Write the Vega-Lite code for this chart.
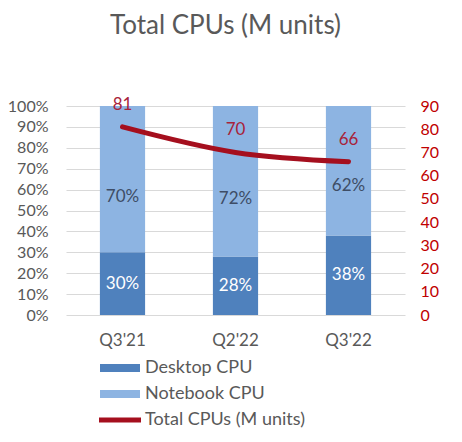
{
  "$schema": "https://vega.github.io/schema/vega-lite/v6.json",
  "autosize": "none",
  "width": 339,
  "height": 209,
  "padding": {"left": 66, "top": 106, "right": 57, "bottom": 127},
  "config": {
    "font": "Lato",
    "view": {"stroke": null},
    "axis": {"labelFont": "Lato", "labelFontSize": 16, "labelColor": "#595959", "domain": false, "ticks": false, "title": null, "labelOverlap": false}
  },
  "title": {
    "text": "Total CPUs (M units)",
    "anchor": "middle",
    "dx": -10,
    "offset": 57,
    "fontSize": 26,
    "fontWeight": "normal",
    "color": "#595959",
    "font": "Lato"
  },
  "datasets": {
    "share": [
      {"quarter": "Q3'21", "series": "Desktop CPU", "share": 0.30},
      {"quarter": "Q3'21", "series": "Notebook CPU", "share": 0.70},
      {"quarter": "Q2'22", "series": "Desktop CPU", "share": 0.28},
      {"quarter": "Q2'22", "series": "Notebook CPU", "share": 0.72},
      {"quarter": "Q3'22", "series": "Desktop CPU", "share": 0.38},
      {"quarter": "Q3'22", "series": "Notebook CPU", "share": 0.62}
    ],
    "total": [
      {"quarter": "Q3'21", "total": 81},
      {"quarter": "Q2'22", "total": 70},
      {"quarter": "Q3'22", "total": 66}
    ]
  },
  "encoding": {
    "x": {
      "field": "quarter",
      "type": "nominal",
      "sort": ["Q3'21", "Q2'22", "Q3'22"],
      "scale": {"paddingInner": 0.6, "paddingOuter": 0.3},
      "axis": {"labelAngle": 0, "labelPadding": 17, "grid": false, "labelFontSize": 17}
    }
  },
  "layer": [
    {
      "data": {"name": "share"},
      "layer": [
        {
          "mark": {"type": "bar"},
          "encoding": {
            "y": {
              "field": "share",
              "type": "quantitative",
              "stack": "zero",
              "scale": {"domain": [0, 1]},
              "axis": {"format": ".0%", "values": [0, 0.1, 0.2, 0.3, 0.4, 0.5, 0.6, 0.7, 0.8, 0.9, 1], "grid": true, "gridColor": "#d9d9d9", "labelPadding": 18, "labelOverlap": false}
            },
            "order": {"field": "series", "sort": "ascending"},
            "color": {
              "field": "series",
              "type": "nominal",
              "scale": {
                "domain": ["Desktop CPU", "Notebook CPU", "Total CPUs (M units)"],
                "range": ["#4F81BD", "#8DB4E2", "#A50F1E"]
              },
              "legend": {
                "title": null,
                "orient": "none",
                "legendX": 44,
                "legendY": 252,
                "padding": 0,
                "symbolSize": 400,
                "symbolStrokeWidth": 0,
                "symbolOpacity": 1,
                "labelOffset": 15,
                "rowPadding": 7,
                "labelFont": "Lato",
                "labelFontSize": 18,
                "labelColor": "#595959",
                "encode": {
                  "symbols": {
                    "update": {
                      "shape": {"signal": "datum.value === 'Total CPUs (M units)' ? 'M-2.1,-0.25H2.1V0.25H-2.1Z' : 'M-2,-0.4H2V0.4H-2Z'"}
                    }
                  }
                }
              }
            }
          }
        },
        {
          "mark": {"type": "text", "fontSize": 17, "baseline": "middle", "color": "#ffffff"},
          "encoding": {
            "y": {
              "field": "share", "type": "quantitative", "stack": "zero", "bandPosition": 0.5,
              "axis": {"format": ".0%", "values": [0, 0.1, 0.2, 0.3, 0.4, 0.5, 0.6, 0.7, 0.8, 0.9, 1], "grid": true, "gridColor": "#d9d9d9", "labelPadding": 18, "labelOverlap": false}
            },
            "order": {"field": "series", "sort": "ascending"},
            "detail": {"field": "series"},
            "text": {"condition": {"test": "datum.series !== 'Desktop CPU'", "value": ""}, "field": "share", "format": ".0%"}
          }
        },
        {
          "mark": {"type": "text", "fontSize": 17, "baseline": "middle", "color": "#3E4D66"},
          "encoding": {
            "y": {
              "field": "share", "type": "quantitative", "stack": "zero", "bandPosition": 0.38,
              "axis": {"format": ".0%", "values": [0, 0.1, 0.2, 0.3, 0.4, 0.5, 0.6, 0.7, 0.8, 0.9, 1], "grid": true, "gridColor": "#d9d9d9", "labelPadding": 18, "labelOverlap": false}
            },
            "order": {"field": "series", "sort": "ascending"},
            "detail": {"field": "series"},
            "text": {"condition": {"test": "datum.series !== 'Notebook CPU'", "value": ""}, "field": "share", "format": ".0%"}
          }
        }
      ]
    },
    {
      "data": {"name": "total"},
      "encoding": {
        "y": {
          "field": "total",
          "type": "quantitative",
          "scale": {"domain": [0, 90]},
          "axis": {"orient": "right", "values": [0, 10, 20, 30, 40, 50, 60, 70, 80, 90], "grid": false, "labelColor": "#C00000", "labelPadding": 15, "labelOverlap": false}
        }
      },
      "layer": [
        {
          "mark": {"type": "line", "color": "#A50F1E", "strokeWidth": 5, "strokeCap": "round", "interpolate": "monotone"}
        },
        {
          "mark": {"type": "text", "fontSize": 17, "dy": -22, "color": "#A8233A"},
          "encoding": {
            "text": {"field": "total", "type": "quantitative"}
          }
        }
      ]
    }
  ],
  "resolve": {"scale": {"y": "independent"}}
}
